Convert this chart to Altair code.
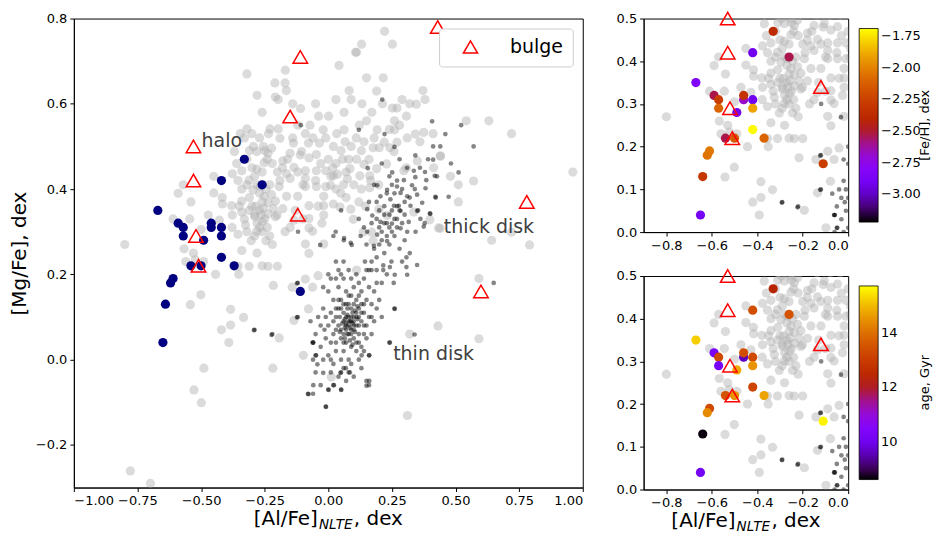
import altair as alt
import pandas as pd
import numpy as np

# ---------------- data ----------------
# large light-grey stars (full sample)
big_pts = [
    (-0.80,0.27),(-0.59,0.39),(-0.54,0.37),(-0.545,0.33),(-0.567,0.26),(-0.53,0.25),(-0.523,0.234),(-0.56,0.23),
    (-0.49,0.23),(-0.443,0.20),(-0.352,0.20),(-0.501,0.152),(-0.542,0.129),(-0.384,0.118),(-0.333,0.099),(-0.384,0.081),
    (-0.42,0.07),(-0.391,0.04),(-0.45,0.43),(-0.45,0.391),(-0.416,0.365),(-0.38,0.361),(-0.377,0.339),(-0.472,0.339),
    (-0.428,0.327),(-0.50,0.305),(-0.355,0.294),(-0.325,0.316),(-0.34,0.256),(-0.311,0.219),(-0.237,0.219),(-0.355,0.219),
    (-0.303,0.279),(-0.281,0.301),(-0.245,0.279),(-0.20,0.219),(-0.216,0.174),(-0.142,0.17),(-0.135,0.092),(-0.193,0.051),
    (-0.098,0.01),(-0.062,0.17),(-0.09,0.189),(-0.04,0.197),(-0.076,0.249),(-0.09,0.271),(-0.018,0.271),(-0.076,0.331),
    (-0.076,0.309),(-0.018,0.361),(-0.018,0.339),(-0.062,0.301),(-0.025,0.32),(-0.135,0.327),(-0.179,0.354),(-0.201,0.339),
    (-0.237,0.342),(-0.259,0.324),(-0.289,0.335),(-0.311,0.35),(-0.34,0.346),(-0.34,0.372),(-0.296,0.398),(-0.311,0.421),
    (-0.267,0.406),(-0.252,0.383),(-0.237,0.368),(-0.223,0.387),(-0.216,0.354),(-0.208,0.372),(-0.208,0.335),(-0.193,0.406),
    (-0.164,0.436),(-0.179,0.466),(-0.281,0.447),(-0.252,0.462),(-0.237,0.484),(-0.281,0.488),(-0.223,0.496),(-0.15,0.484),
    (-0.105,0.488),(-0.076,0.473),(-0.047,0.481),(-0.135,0.451),(-0.09,0.443),(-0.047,0.443),(-0.15,0.425),(-0.09,0.425),
    (-0.09,0.406),(-0.047,0.406),(-0.018,0.383),(-0.164,0.383),(-0.12,0.383),(-0.076,0.361),(-0.369,0.488),(-0.34,0.443),
    (-0.377,0.436),(-0.01,0.406),(-0.01,0.443),(-0.57,0.41),(-0.417,0.38),(-0.61,0.33),(-0.378,0.31),(-0.078,0.119),
    (-0.30,0.45),(-0.29,0.43),(-0.28,0.41),(-0.27,0.39),(-0.26,0.37),(-0.27,0.35),(-0.25,0.33),(-0.24,0.31),
    (-0.23,0.29),(-0.22,0.27),(-0.31,0.38),(-0.30,0.36),(-0.29,0.34),(-0.28,0.32),(-0.22,0.46),(-0.20,0.44),
    (-0.19,0.42),(-0.18,0.45),(-0.16,0.47),(-0.12,0.44),(-0.10,0.41),(-0.05,0.42),(-0.03,0.46),(-0.11,0.48),
    (-0.04,0.36),(-0.10,0.33),(-0.13,0.35),(-0.15,0.31),(-0.17,0.30),(-0.26,0.22),(-0.28,0.25),
    (-0.32,0.47),(-0.31,0.49),(-0.33,0.52),(-0.30,0.53),(-0.27,0.52),(-0.25,0.49),(-0.24,0.47),(-0.26,0.44),
    (-0.23,0.41),(-0.245,0.40),(-0.255,0.355),(-0.265,0.34),(-0.285,0.36),(-0.27,0.31),(-0.26,0.30),(-0.29,0.29),
    (-0.32,0.30),(-0.33,0.33),(-0.35,0.36),(-0.34,0.40),(-0.32,0.41),(-0.355,0.42),(-0.36,0.46),
    (-0.346,0.53),(-0.32,0.67),(-0.169,0.679),(-0.21,0.649),(-0.17,0.649),(-0.165,0.631),(-0.208,0.616),(0.042,0.69),
    (0.107,0.721),(0.082,0.631),(-0.109,0.589),(0.221,0.77),(0.252,0.74),(0.131,0.74),(0.111,0.721),(-0.197,0.61),
    (0.15,0.661),(0.216,0.661),(0.132,0.60),(0.062,0.58),(-0.038,0.571),(0.001,0.571),(0.171,0.58),(0.252,0.59),
    (0.27,0.59),(0.32,0.60),(0.213,0.60),(0.15,0.56),(0.122,0.55),(0.192,0.539),(0.26,0.56),(0.26,0.539),
    (0.307,0.571),(-0.072,0.55),(-0.02,0.539),(0.033,0.53),(0.062,0.539),(-0.229,0.541),(-0.197,0.541),(-0.32,0.541),
    (-0.235,0.53),(-0.19,0.519),(0.066,0.511),(0.14,0.511),(-0.137,0.508),(-0.078,0.508),(-0.035,0.508),(-0.294,0.50),
    (-0.255,0.50),(-0.14,0.52),(-0.12,0.55),(-0.09,0.53),(-0.06,0.52),(-0.01,0.52),(0.02,0.50),(0.05,0.49),
    (0.09,0.50),(0.11,0.52),(0.13,0.49),(0.16,0.47),(0.18,0.52),(0.22,0.51),(0.24,0.54),(0.28,0.55),
    (0.29,0.61),(0.19,0.63),(0.09,0.61),(0.03,0.61),(-0.05,0.60),(-0.14,0.60),(-0.26,0.58),(-0.28,0.62),
    (0.372,0.631),(0.38,0.61),(0.346,0.599),(0.542,0.56),(0.631,0.56),(0.72,0.53),(0.412,0.53),
    (0.36,0.511),(0.441,0.478),(0.48,0.43),(0.511,0.41),(0.571,0.419),(0.961,0.44),(0.511,0.37),(0.642,0.28),
    (0.72,0.299),(0.791,0.269),(0.433,0.309),(0.399,0.328),(0.20,0.497),(0.242,0.497),(0.176,0.497),(0.017,0.45),
    (0.056,0.47),(0.08,0.47),(0.111,0.47),(0.02,0.431),(0.085,0.448),(0.124,0.431),(0.163,0.431),(0.163,0.403),
    (0.19,0.448),(0.229,0.459),(0.307,0.45),(0.02,0.365),(0.046,0.358),(0.098,0.329),(0.137,0.299),(0.17,0.299),
    (0.176,0.279),(0.111,0.21),(0.32,0.06),(0.592,0.19),(0.431,0.079),(0.592,0.049),(0.27,0.51),(0.31,0.52),
    (0.342,0.529),(0.375,0.533),(0.258,0.488),(0.14,0.458),(0.075,0.424),(0.036,0.435),(0.009,0.409),(0.166,0.42),
    (0.198,0.41),(0.297,0.443),(0.35,0.466),(0.414,0.45),(0.44,0.477),(0.049,0.39),(0.088,0.353),(0.146,0.36),
    (0.199,0.353),(0.231,0.338),(0.336,0.346),(0.44,0.308),(0.00,0.47),(0.03,0.46),(0.07,0.44),(0.10,0.41),
    (0.13,0.40),(0.06,0.41),(0.03,0.40),(0.01,0.43),(0.12,0.37),(0.07,0.38),
    (-0.489,-0.02),(-0.528,-0.071),(-0.499,-0.101),(-0.778,-0.261),(-0.699,-0.29),(-0.218,-0.02),(0.012,-0.041),(0.311,-0.131),
]

# small dark points (thin and thick disk stars)
small_pts = [
    # thin disk
    (0.08,0.09),(0.09,0.06),(0.07,0.07),(0.10,0.10),(0.06,0.11),(0.11,0.08),(0.05,0.05),(0.12,0.12),(0.04,0.08),(0.09,0.12),
    (0.07,0.04),(0.13,0.09),(0.06,0.02),(0.10,0.05),(0.08,0.13),(0.11,0.14),(0.03,0.10),(0.05,0.14),(0.12,0.06),(0.14,0.11),
    (0.02,0.06),(0.09,0.03),(0.07,0.10),(0.10,0.08),(0.08,0.06),(0.06,0.09),(0.12,0.10),(0.04,0.12),(0.11,0.11),(0.05,0.07),
    (0.08,0.08),(0.085,0.09),(0.09,0.07),(0.075,0.06),(0.07,0.085),(0.10,0.09),(0.095,0.11),(0.065,0.05),(0.075,0.12),(0.105,0.065),
    (0.085,0.075),(0.095,0.085),(0.065,0.095),(0.075,0.105),(0.105,0.115),(0.115,0.095),(0.055,0.085),(0.045,0.065),(0.085,0.045),(0.095,0.035),
    (0.06,0.06),(0.12,0.08),(0.13,0.11),(0.10,0.13),(0.07,0.13),(0.08,0.15),(0.05,0.12),(0.03,0.07),(0.06,0.04),(0.12,0.04),
    (0.14,0.13),(0.09,0.09),(0.08,0.10),(0.10,0.07),(0.07,0.08),(0.11,0.10),(0.09,0.10),(0.065,0.075),(0.045,0.10),(0.115,0.125),
    (0.15,0.14),(0.16,0.10),(0.14,0.06),(0.17,0.13),(0.13,0.16),(0.10,0.17),(0.07,0.16),(0.04,0.17),(0.02,0.14),(0.01,0.11),
    (0.00,0.08),(0.01,0.04),(0.03,0.02),(0.05,0.00),(0.08,0.00),(0.11,0.02),(0.13,0.03),(0.15,0.05),(0.18,0.09),(0.16,0.17),
    (0.12,0.18),(0.09,0.19),(0.06,0.19),(0.03,0.19),(0.00,0.16),(-0.02,0.12),(-0.03,0.08),(-0.01,0.05),(0.00,0.01),(0.02,-0.01),
    (0.06,-0.02),(0.09,-0.01),(0.12,0.00),(0.14,0.02),(0.17,0.06),(0.19,0.12),(0.18,0.16),(0.14,0.19),(0.11,0.20),(0.08,0.21),
    (0.04,0.21),(0.01,0.19),(-0.02,0.17),(-0.04,0.10),(-0.05,0.06),(-0.03,0.03),(-0.02,0.00),(0.01,-0.03),(0.04,-0.04),(0.07,-0.05),
    (0.10,-0.04),(0.13,-0.02),(0.20,0.14),(0.21,0.18),(0.16,0.21),(0.03,0.23),(0.06,0.23),(0.09,0.15),(0.02,0.09),(0.15,0.08),
    (-0.06,0.00),(-0.05,-0.03),(-0.03,-0.06),(0.00,-0.07),(0.02,-0.06),(0.05,-0.07),(-0.06,-0.08),(-0.08,-0.08),(-0.01,-0.11),(0.05,-0.03),
    (0.08,-0.03),(0.15,-0.05),(0.16,-0.06),(0.16,0.01),(0.21,0.10),(0.24,0.04),(0.26,0.12),(-0.06,0.04),(-0.07,0.09),(-0.12,0.10),
    (-0.12,0.18),(-0.22,0.06),(-0.29,0.07),(0.00,0.20),(0.05,0.20),(0.19,0.18),(0.23,0.20),(-0.05,0.01),(-0.01,0.10),(-0.015,0.07),
    (0.03,0.04),(0.04,0.14),(0.13,0.13),(0.14,0.08),(0.06,0.13),(0.11,0.04),(0.03,0.12),(0.12,0.15),(0.17,0.10),(0.01,0.00),
    # thick disk
    (0.212,0.61),(0.408,0.559),(0.46,0.529),(0.522,0.55),(0.571,0.5),(0.12,0.539),(0.221,0.529),(0.26,0.499),(0.342,0.479),(0.412,0.469),
    (0.155,0.449),(0.251,0.439),(0.336,0.443),(0.427,0.43),(0.482,0.46),(0.512,0.439),(0.192,0.409),(0.231,0.398),(0.27,0.406),(0.297,0.421),
    (0.342,0.428),(0.329,0.409),(0.284,0.391),(0.31,0.383),(0.349,0.387),(0.382,0.402),(0.369,0.368),(0.205,0.383),(0.244,0.376),(0.277,0.361),
    (0.153,0.353),(0.173,0.338),(0.205,0.323),(0.258,0.361),(0.284,0.349),(0.323,0.361),(0.349,0.349),(0.362,0.33),(0.25,0.319),(0.284,0.308),
    (0.316,0.323),(0.343,0.30),(0.375,0.312),(0.401,0.342),(0.421,0.382),(0.473,0.382),(0.153,0.30),(0.192,0.293),(0.231,0.278),(0.179,0.267),
    (0.127,0.29),(0.088,0.274),(0.062,0.285),(0.029,0.30),(0.412,0.50),(0.44,0.50),(0.392,0.47),(0.36,0.45),(0.38,0.44),(0.418,0.431),
    (0.385,0.421),(0.422,0.38),(0.399,0.343),(0.353,0.35),(0.379,0.32),(0.144,0.23),(0.17,0.23),(0.216,0.221),(0.242,0.217),(0.261,0.199),
    (0.216,0.21),(0.15,0.21),(0.17,0.21),(0.19,0.21),(0.19,0.24),(0.248,0.23),(0.307,0.24),(0.31,0.199),(0.307,0.217),(0.257,0.18),
    (0.349,0.222),(0.65,0.18),(0.339,0.059),(0.261,0.119),(0.20,0.27),(0.22,0.25),(0.18,0.26),(0.24,0.27),(0.26,0.29),(0.28,0.26),
    (0.30,0.28),(0.32,0.25),(0.29,0.23),(0.21,0.30),(0.23,0.32),(0.19,0.33),(0.27,0.33),(0.25,0.35),(0.30,0.37),(0.22,0.36),
    (0.26,0.39),(0.34,0.40),(0.24,0.43),(0.18,0.41),(0.16,0.37),(0.14,0.31),(0.12,0.33),(0.31,0.45),(0.28,0.47),(0.21,0.46),
    (0.22,0.34),(0.24,0.31),(0.20,0.35),(0.27,0.36),(0.21,0.28),(0.23,0.29),(0.25,0.30),(0.27,0.31),(0.29,0.32),(0.26,0.33),
    (0.24,0.34),(0.22,0.32),(0.20,0.31),(0.28,0.35),(0.30,0.34),(0.32,0.38),(0.29,0.40),(0.27,0.42),(0.25,0.41),(0.23,0.39),
    (0.19,0.37),(0.17,0.32),(0.15,0.27),(0.31,0.30),
    # scattered
    (-0.108,0.55),(-0.119,0.30),(-0.032,0.269),(-0.123,0.179),(-0.123,0.099),(-0.223,0.058),(-0.292,0.069),(-0.062,0.04),
    (0.05,0.35),(0.02,0.29),(0.061,0.28),(0.092,0.269),(0.161,0.01),(0.161,-0.05),(0.15,-0.061),(0.051,-0.071),
    (0.001,-0.071),(0.022,-0.06),(-0.059,-0.06),(-0.078,-0.081),(-0.009,-0.111),(-0.059,0.04),(-0.048,0.01),(-0.043,-0.011),
    (-0.02,-0.031),(0.048,-0.031),(0.085,-0.03),(0.131,0.01),(0.069,-0.02),(0.242,0.04),
]

# halo stars
halo_al  = [-0.67,-0.59,-0.57,-0.57,-0.49,-0.46,-0.46,-0.42,-0.42,-0.42,-0.42,-0.33,-0.26,-0.54,-0.50,-0.37,-0.61,-0.62,-0.64,-0.65,-0.11]
halo_mg  = [0.35,0.32,0.31,0.29,0.28,0.31,0.32,0.31,0.29,0.24,0.42,0.47,0.41,0.22,0.22,0.22,0.19,0.18,0.13,0.04,0.16]
halo_feh = [-2.85,-2.53,-2.27,-2.10,-2.90,-2.68,-2.33,-2.92,-1.90,-1.70,-2.92,-2.38,-2.53,-2.53,-2.15,-2.10,-2.03,-2.05,-2.30,-2.90,-2.27]
halo_age = [15.2,10.2,13.3,10.2,14.8,9.6,13.4,13.3,14.5,13.2,13.4,12.3,13.5,13.5,14.5,14.7,13.3,14.4,8.7,10.1,15.6]

# bulge stars
bulge_al = [-0.53,-0.53,-0.52,-0.51,-0.15,-0.11,-0.12,0.43,0.78,0.60]
bulge_mg = [0.50,0.42,0.29,0.22,0.57,0.71,0.34,0.78,0.37,0.16]

region_text = ["halo", "thick disk", "thin disk"]
region_al = [-0.498, 0.454, 0.255]
region_mg = [0.499, 0.298, 0.0]

main_xticks = [-1.0,-0.75,-0.5,-0.25,0.0,0.25,0.5,0.75,1.0]
main_yticks = [-0.2,0.0,0.2,0.4,0.6,0.8]
small_xticks = [-0.8,-0.6,-0.4,-0.2,0.0]
small_yticks = [0.0,0.1,0.2,0.3,0.4,0.5]
feh_ticks = [-3.0,-2.75,-2.5,-2.25,-2.0,-1.75]
age_ticks = [10,12,14]
feh_range = [-3.22,-1.69]
age_range = [8.64,15.70]

# ---------------- frames ----------------
big = pd.DataFrame(big_pts, columns=["al","mg"])
small = pd.DataFrame(small_pts, columns=["al","mg"])
halo = pd.DataFrame({"al":halo_al,"mg":halo_mg,"feh":halo_feh,"age":halo_age})
bulge = pd.DataFrame({"al":bulge_al,"mg":bulge_mg,"kind":["bulge"]*len(bulge_al)})
regions = pd.DataFrame({"al":region_al,"mg":region_mg,"text":region_text})
one = pd.DataFrame({"a":[0]})

# gnuplot colormap
def gnuplot_hex(t):
    r = np.sqrt(t); g = t**3; b = max(0.0, np.sin(2*np.pi*t))
    return "#%02x%02x%02x" % (int(round(r*255)), int(round(g*255)), int(round(b*255)))
stops = np.linspace(0, 1, 21)
cmap = [gnuplot_hex(t) for t in stops]
feh_dom = list(feh_range[0] + stops*(feh_range[1]-feh_range[0]))
age_dom = list(age_range[0] + stops*(age_range[1]-age_range[0]))

FONT = "DejaVu Sans"
MW, MH = 510, 470
SW, SH = 205, 214

def xtitle(width, height):
    x0 = width/2 - 74.7
    y0 = height + 38
    t1 = alt.Chart(one).mark_text(text="[Al/Fe]", align="left", baseline="alphabetic", fontSize=20, color="black").encode(
        x=alt.value(x0), y=alt.value(y0))
    t2 = alt.Chart(one).mark_text(text="NLTE", align="left", baseline="alphabetic", fontSize=13.5, fontStyle="italic", color="black").encode(
        x=alt.value(x0+65.4), y=alt.value(y0+4))
    t3 = alt.Chart(one).mark_text(text=", dex", align="left", baseline="alphabetic", fontSize=20, color="black").encode(
        x=alt.value(x0+100.3), y=alt.value(y0))
    return [t1, t2, t3]

def cbar_title(text):
    return alt.Chart(one).mark_text(text=text, angle=270, align="center", baseline="middle", fontSize=13, color="black").encode(
        x=alt.value(SW + 77), y=alt.value(10 + (SH - 20) / 2))

# ---------------- main panel ----------------
xs_m = alt.Scale(domain=[-1,1], nice=False, zero=False)
ys_m = alt.Scale(domain=[-0.3,0.8], nice=False, zero=False)
m_big = alt.Chart(big).mark_circle(size=85, color="#b0b0b0", opacity=0.45).encode(
    x=alt.X("al:Q", scale=xs_m, axis=alt.Axis(values=main_xticks, format=".2f", title=None)),
    y=alt.Y("mg:Q", scale=ys_m, axis=alt.Axis(values=main_yticks, format=".1f", title="[Mg/Fe], dex", titlePadding=6)))
m_small = alt.Chart(small).mark_circle(size=22, color="black", opacity=0.48).encode(x="al:Q", y="mg:Q")
m_halo = alt.Chart(halo).mark_circle(size=85, color="#000080", opacity=1).encode(x="al:Q", y="mg:Q")
m_bulge = alt.Chart(bulge).mark_point(filled=False, color="red", size=210, strokeWidth=1.5, opacity=1).encode(
    x="al:Q", y="mg:Q",
    shape=alt.Shape("kind:N", scale=alt.Scale(domain=["bulge"], range=["triangle-up"]),
                    legend=alt.Legend(title=None, orient="top-right", offset=10, padding=9, strokeColor="#cccccc",
                                      fillColor="white", cornerRadius=3, labelFontSize=19, labelColor="black",
                                      symbolSize=200, symbolStrokeColor="red", symbolStrokeWidth=1.5,
                                      symbolFillColor="transparent", symbolOffset=13, labelOffset=30)))
m_text = alt.Chart(regions).mark_text(align="left", baseline="alphabetic", fontSize=19, color="#404040").encode(
    x="al:Q", y="mg:Q", text="text:N")
main = alt.layer(m_big, m_small, m_halo, m_bulge, m_text, *xtitle(MW, MH)).properties(width=MW, height=MH)

# ---------------- small panels ----------------
xs_s = alt.Scale(domain=[-0.9,0], nice=False, zero=False)
ys_s = alt.Scale(domain=[0,0.5], nice=False, zero=False)

def small_panel(field, dom, ticks, fmt, title, with_xtitle):
    s_big = alt.Chart(big).mark_circle(size=85, color="#b0b0b0", opacity=0.45, clip=True).encode(
        x=alt.X("al:Q", scale=xs_s, axis=alt.Axis(values=small_xticks, format=".1f", title=None)),
        y=alt.Y("mg:Q", scale=ys_s, axis=alt.Axis(values=small_yticks, format=".1f", title=None)))
    s_small = alt.Chart(small).mark_circle(size=22, color="black", opacity=0.48, clip=True).encode(x="al:Q", y="mg:Q")
    s_halo = alt.Chart(halo).mark_circle(size=85, opacity=1, clip=True).encode(
        x="al:Q", y="mg:Q",
        color=alt.Color(f"{field}:Q", scale=alt.Scale(domain=dom, range=cmap, interpolate="rgb"),
                        legend=alt.Legend(orient="none", legendX=SW+11, legendY=10, direction="vertical",
                                          gradientLength=SH-20, gradientThickness=19, values=ticks, format=fmt,
                                          title=None, labelFontSize=13, labelOffset=3, gradientStrokeColor="black",
                                          gradientStrokeWidth=0.8)))
    s_bulge = alt.Chart(bulge).transform_filter("datum.al <= 0.02 && datum.mg <= 0.51").mark_point(
        shape="triangle-up", filled=False, color="red", size=210, strokeWidth=1.5, opacity=1).encode(x="al:Q", y="mg:Q")
    layers = [s_big, s_small, s_halo, s_bulge, cbar_title(title)]
    if with_xtitle:
        layers += xtitle(SW, SH)
    return alt.layer(*layers).properties(width=SW, height=SH)

top = small_panel("feh", feh_dom, feh_ticks, ".2f", "[Fe/H], dex", False)
bottom = small_panel("age", age_dom, age_ticks, "d", "age, Gyr", True)

right = alt.vconcat(top, bottom, spacing=13).resolve_scale(color="independent").resolve_legend(color="independent")

chart = alt.hconcat(main, right, spacing=31).resolve_scale(color="independent", shape="independent").resolve_legend(
    color="independent", shape="independent").properties(
    padding={"left": 0, "top": 0, "right": 0, "bottom": 0}
).configure(font=FONT).configure_view(stroke="black", strokeWidth=1).configure_axis(
    grid=False, domainColor="black", tickColor="black", labelColor="black", titleColor="black",
    labelFontSize=13, titleFontSize=20, titleFontWeight="normal", tickSize=4, labelPadding=3,
    domainWidth=1, tickWidth=1, labelFont=FONT, titleFont=FONT
).configure_legend(labelColor="black", titleColor="black", labelFont=FONT, titleFont=FONT)

chart.save("out.html", embed_options={"renderer": "svg", "actions": False})
